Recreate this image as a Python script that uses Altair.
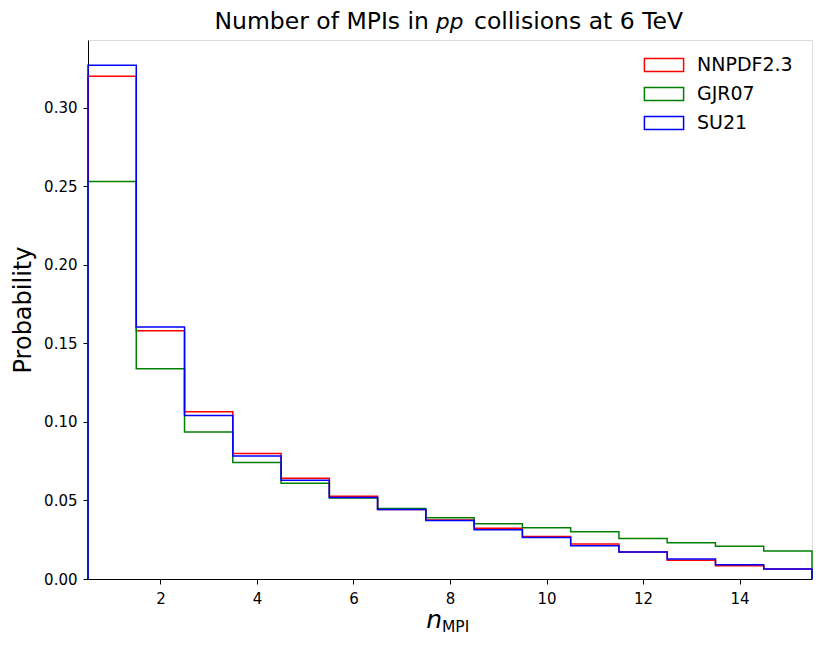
import altair as alt
import pandas as pd

# bin edges of the n_MPI histogram
edges = [0.5, 1.5, 2.5, 3.5, 4.5, 5.5, 6.5, 7.5, 8.5, 9.5, 10.5, 11.5, 12.5, 13.5, 14.5, 15.5]
series_names = ["NNPDF2.3", "GJR07", "SU21"]
series_colors = ["#ff0000", "#008000", "#0000ff"]

nnpdf = [0.320, 0.158, 0.1064, 0.0798, 0.0641, 0.0527, 0.0442, 0.0375, 0.0323, 0.0270,
         0.0223, 0.0172, 0.0119, 0.0085, 0.0064]
gjr = [0.253, 0.1338, 0.0936, 0.0741, 0.0609, 0.0515, 0.0448, 0.0389, 0.0352, 0.0326,
       0.0301, 0.0257, 0.0231, 0.0208, 0.0178]
su21 = [0.327, 0.1603, 0.1040, 0.0783, 0.0628, 0.0518, 0.0442, 0.0372, 0.0314, 0.0264,
        0.0212, 0.0172, 0.0127, 0.0091, 0.0064]

x_ticks = [2, 4, 6, 8, 10, 12, 14]
y_ticks = [0.00, 0.05, 0.10, 0.15, 0.20, 0.25, 0.30]

rows = []
for name, vals in zip(series_names, [nnpdf, gjr, su21]):
    pts = [(edges[0], 0.0)]
    for i, v in enumerate(vals):
        pts.append((edges[i], v))
    pts.append((edges[-1], vals[-1]))
    pts.append((edges[-1], 0.0))
    for k, (x, y) in enumerate(pts):
        rows.append({"series": name, "x": x, "y": y, "k": k})
df = pd.DataFrame(rows)

W, H = 724, 539
FONT = "DejaVu Sans"

lines = alt.Chart(df).mark_line(interpolate="step-after", strokeWidth=1.5).encode(
    x=alt.X("x:Q", scale=alt.Scale(domain=[0.5, 15.5], nice=False, zero=False),
            axis=alt.Axis(values=x_ticks, title=None, format="d", labelFontSize=15,
                          labelFont=FONT, labelColor="black", tickColor="black",
                          domainColor="black", tickSize=5, grid=False, labelPadding=7)),
    y=alt.Y("y:Q", scale=alt.Scale(domain=[0, 0.343], nice=False),
            axis=alt.Axis(values=y_ticks, format=".2f", title="Probability", titleFontSize=24,
                          titleFont=FONT, titleFontWeight="normal", titleColor="black",
                          labelFontSize=15, labelFont=FONT, labelColor="black",
                          tickColor="black", domainColor="black", tickSize=5, grid=False,
                          labelPadding=6, titlePadding=8)),
    stroke=alt.Stroke("series:N", scale=alt.Scale(domain=series_names, range=series_colors),
                      legend=alt.Legend(title=None, orient="none", legendX=561, legendY=10,
                                        symbolType="M-1.40,-0.464H1.40V0.464H-1.40Z",
                                        symbolSize=784, symbolStrokeWidth=1.5,
                                        symbolFillColor="transparent",
                                        labelFontSize=19, labelFont=FONT, labelColor="black",
                                        labelOffset=18, rowPadding=4, padding=0)),
    order="k:Q",
    detail="series:N",
)

t1 = alt.Chart(pd.DataFrame({"t": ["Number of MPIs in"]})).mark_text(
    align="right", baseline="alphabetic", fontSize=23.5, font=FONT, color="black"
).encode(text="t:N", x=alt.value(341), y=alt.value(-11))
t2 = alt.Chart(pd.DataFrame({"t": ["pp"]})).mark_text(
    align="left", baseline="alphabetic", fontSize=21.5, font=FONT, fontStyle="italic", color="black"
).encode(text="t:N", x=alt.value(348), y=alt.value(-11))
t3 = alt.Chart(pd.DataFrame({"t": ["collisions at 6 TeV"]})).mark_text(
    align="left", baseline="alphabetic", fontSize=23.5, font=FONT, color="black"
).encode(text="t:N", x=alt.value(386), y=alt.value(-11))

xn = alt.Chart(pd.DataFrame({"t": ["n"]})).mark_text(
    align="right", baseline="alphabetic", fontSize=25, font=FONT, fontStyle="italic", color="black"
).encode(text="t:N", x=alt.value(354), y=alt.value(588))
xs = alt.Chart(pd.DataFrame({"t": ["MPI"]})).mark_text(
    align="left", baseline="alphabetic", fontSize=15.5, font=FONT, color="black"
).encode(text="t:N", x=alt.value(354), y=alt.value(592))

chart = alt.layer(lines, t1, t2, t3, xn, xs).properties(
    width=W, height=H,
    autosize=alt.AutoSizeParams(type="none"),
    padding={"left": 80, "top": 32, "right": 8, "bottom": 58},
).configure_view(stroke="black", strokeWidth=1).configure(background="white")

chart.save("out.html", embed_options={"renderer": "svg", "actions": False})
